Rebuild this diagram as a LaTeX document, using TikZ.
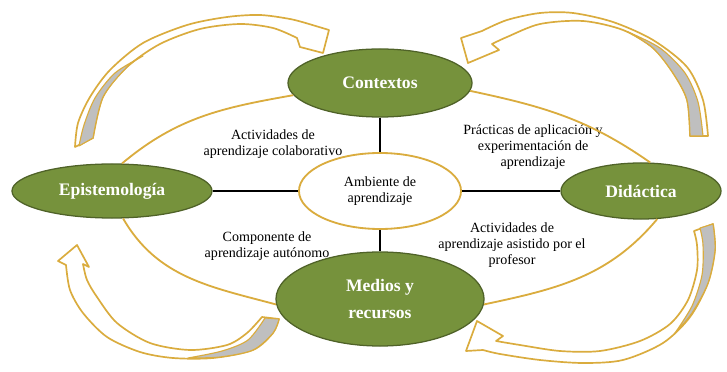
\documentclass[tikz,border=0pt]{standalone}
\usepackage{fontspec}
\setmainfont{Liberation Serif}
\usetikzlibrary{shapes.geometric}
\definecolor{oliva}{RGB}{118,146,60}
\definecolor{olivaosc}{RGB}{79,98,40}
\definecolor{oro}{RGB}{218,172,62}
\definecolor{grisflecha}{RGB}{191,191,191}

\begin{document}
\begin{tikzpicture}[x=0.025cm,y=0.025cm,
  tema/.style={ellipse,draw=olivaosc,line width=0.9pt,fill=oliva,text=white,inner sep=0pt,align=center,font=\fontsize{12.5}{14}\selectfont\bfseries},
  centro/.style={ellipse,draw=oro,line width=1.3pt,fill=white,inner sep=0pt,align=center,font=\fontsize{10}{11.5}\selectfont},
  texto/.style={align=center,font=\fontsize{10}{11.5}\selectfont},
  aro/.style={draw=oro,line width=1.3pt},
  enlace/.style={draw=black,line width=0.8pt},
  flecha/.style={draw=oro,line width=1.2pt,fill=white,line join=round},
  sombra/.style={draw=oro,line width=0.8pt,fill=grisflecha,line join=round}]
\useasboundingbox (0,0) rectangle (727,-372);

% flechas curvas
\draw[flecha] plot[smooth] coordinates {(75,-147) (78,-123) (90,-97) (110,-70) (143,-43) (187,-25) (227,-17) (260,-15) (290,-19) (309,-24)}
  -- (329,-30) -- (323,-53) -- (300,-47) -- (297,-38)
  -- plot[smooth] coordinates {(297,-38) (273,-28) (240,-24) (200,-29) (160,-44) (127,-67) (103,-97) (93,-138)} -- cycle;
\draw[sombra] plot[smooth] coordinates {(93,-138) (103,-97) (127,-67) (143,-56)}
  -- plot[smooth] coordinates {(143,-56) (115,-73) (95,-98) (84,-125) (79,-146)} -- cycle;

\draw[flecha] plot[smooth] coordinates {(708,-136) (703,-100) (687,-67) (653,-40) (613,-22) (573,-13) (540,-13) (507,-20) (482,-31)}
  -- (461,-38) -- (468,-63) -- (499,-50) -- (492,-44)
  -- plot[smooth] coordinates {(492,-44) (507,-37) (540,-24) (583,-21) (623,-30) (653,-48) (673,-73) (687,-100) (690,-136)} -- cycle;
\draw[sombra] plot[smooth] coordinates {(690,-136) (687,-100) (673,-73) (653,-48) (628,-32)}
  -- plot[smooth] coordinates {(628,-32) (660,-48) (685,-73) (698,-102) (703,-136)} -- cycle;

\draw[flecha] plot[smooth] coordinates {(279,-319) (273,-333) (253,-350) (213,-358) (173,-358) (140,-352) (107,-337) (83,-313) (70,-290) (66,-265)}
  -- (58,-261) -- (77,-245) -- (89,-267) -- (83,-264)
  -- plot[smooth] coordinates {(83,-264) (87,-280) (97,-297) (117,-323) (150,-343) (190,-350) (227,-345) (247,-333) (262,-317)} -- cycle;
\draw[sombra] plot[smooth] coordinates {(279,-319) (273,-333) (253,-350) (220,-357) (188,-358)}
  -- plot[smooth] coordinates {(188,-358) (222,-351) (248,-340) (265,-318)} -- cycle;

\draw[flecha] plot[smooth] coordinates {(713,-224) (715,-250) (708,-283) (690,-317) (663,-343) (623,-360) (583,-363) (540,-360) (500,-354) (483,-350)}
  -- (466,-351) -- (477,-321) -- (503,-336) -- (496,-341)
  -- plot[smooth] coordinates {(496,-341) (520,-345) (560,-351) (600,-351) (640,-341) (670,-324) (688,-300) (697,-270) (697,-245) (694,-231)} -- cycle;
\draw[sombra] plot[smooth] coordinates {(713,-224) (715,-250) (708,-283) (692,-313) (675,-333)}
  -- plot[smooth] coordinates {(675,-333) (692,-306) (702,-275) (703,-245) (700,-228)} -- cycle;

% elipses
\node[tema,minimum width=4.6cm,minimum height=1.7cm] (ctx) at (380,-83) {Contextos};
\node[tema,minimum width=5.0cm,minimum height=1.35cm] (epi) at (112,-191) {Epistemología};
\node[tema,minimum width=4.0cm,minimum height=1.4cm] (did) at (641,-191) {Didáctica};
\node[tema,minimum width=5.2cm,minimum height=2.35cm] (med) at (380,-299) {Medios y\\[5pt]recursos};
\node[centro,minimum width=4.05cm,minimum height=1.9cm] (amb) at (380,-191) {Ambiente de\\aprendizaje};

% textos
\node[texto] (t1) at (273,-144) {Actividades de\\aprendizaje colaborativo};
\node[texto] (t2) at (533,-147) {Prácticas de aplicación y\\experimentación de\\aprendizaje};
\node[texto] (t3) at (267,-246) {Componente de\\aprendizaje autónomo};
\node[texto] (t4) at (512,-245) {Actividades de\\aprendizaje asistido por el\\profesor};

% lineas
\draw[enlace] (ctx.south) -- (amb.north);
\draw[enlace] (amb.south) -- (med.north);
\draw[enlace] (epi.east) -- (amb.west);
\draw[enlace] (amb.east) -- (did.west);

\draw[aro] (ctx.188) to[out=190,in=40] (epi.70);
\draw[aro] (ctx.-5) to[out=-12,in=145] (did.72);
\draw[aro] (epi.-68) to[out=-60,in=165] (med.183);
\draw[aro] (did.-60) to[out=-130,in=12] (med.-3);
\end{tikzpicture}
\end{document}
